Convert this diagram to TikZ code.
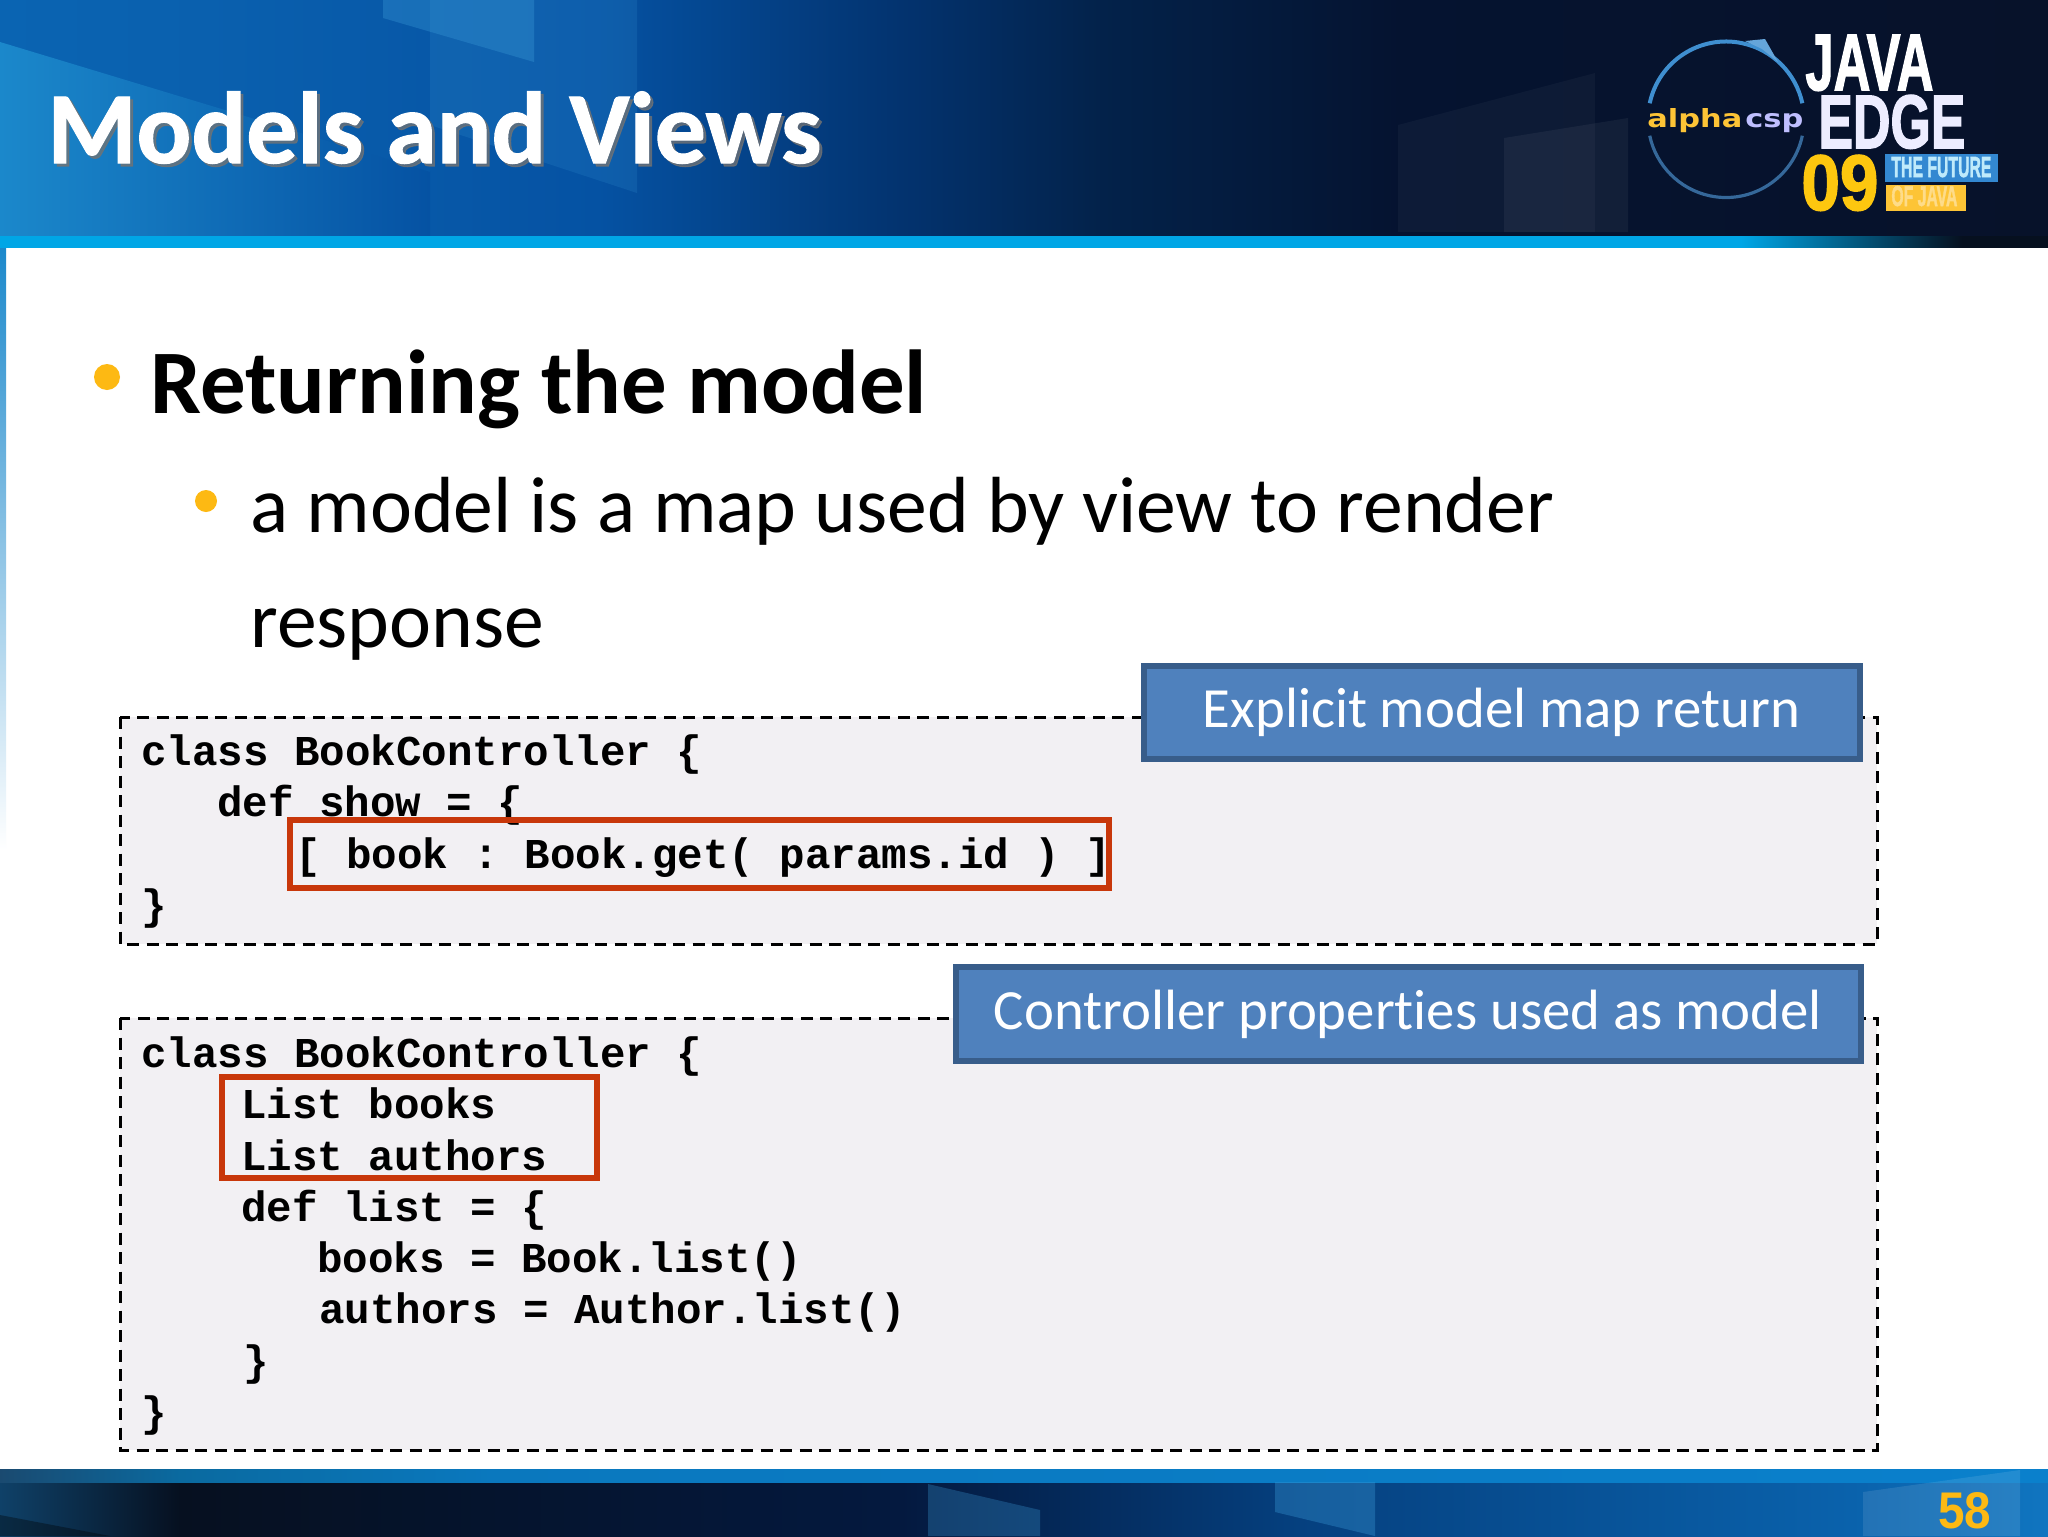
\documentclass[tikz,border=0pt]{standalone}
\usepackage{graphicx}
\usepackage{fontspec}
\setmainfont[Ligatures=NoCommon]{Carlito}
\setmonofont{Liberation Mono}
\newfontfamily\arialf{Liberation Sans}
\newfontfamily\widef{DejaVu Sans}
\newcommand{\heavy}{\arialf\bfseries\addfontfeature{FakeBold=2}}
\definecolor{bulletyel}{HTML}{FDB913}
\definecolor{panelgray}{HTML}{F2F0F3}
\definecolor{redbox}{HTML}{C8370A}
\definecolor{bluefill}{HTML}{4F81BD}
\definecolor{blueedge}{HTML}{385D8A}
\definecolor{h0}{HTML}{0A64B2}\definecolor{h1}{HTML}{0A60AE}\definecolor{h2}{HTML}{0552A3}
\definecolor{h3}{HTML}{03336F}\definecolor{h4}{HTML}{03224A}\definecolor{h5}{HTML}{051330}\definecolor{h6}{HTML}{07122A}
\definecolor{hlight}{HTML}{1B88CB}\definecolor{bandblue}{HTML}{3A9AD8}
\definecolor{s0}{HTML}{00A6E6}\definecolor{s3}{HTML}{06101F}
\definecolor{f0}{HTML}{0F4168}\definecolor{f1}{HTML}{061020}\definecolor{f2}{HTML}{04193F}\definecolor{f3}{HTML}{05407F}\definecolor{f4}{HTML}{0A62AC}\definecolor{f5}{HTML}{1075C0}
\definecolor{t0}{HTML}{1A4A70}\definecolor{t1}{HTML}{0A6AA0}\definecolor{t2}{HTML}{0A78BE}\definecolor{t3}{HTML}{0A80CC}
\definecolor{ringtop}{HTML}{3F8FD0}\definecolor{ringlow}{HTML}{35689A}
\pgfdeclarehorizontalshading{hdrshade}{100bp}{color(0bp)=(h0);color(25bp)=(h0);color(30bp)=(h1);color(39.6bp)=(h2);color(47bp)=(h3);color(51.9bp)=(h4);color(59.2bp)=(h5);color(75bp)=(h6);color(100bp)=(h6)}
\pgfdeclarehorizontalshading{stripshade}{100bp}{color(0bp)=(s0);color(25bp)=(s0);color(67.5bp)=(s0);color(72.9bp)=(s3);color(100bp)=(s3)}
\pgfdeclarehorizontalshading{footshade}{100bp}{color(0bp)=(f0);color(25bp)=(f0);color(29.4bp)=(f1);color(47bp)=(f2);color(56.7bp)=(f3);color(70.2bp)=(f4);color(75bp)=(f5);color(100bp)=(f5)}
\pgfdeclarehorizontalshading{tealshade}{100bp}{color(0bp)=(t0);color(25bp)=(t0);color(29.4bp)=(t1);color(37bp)=(t2);color(75bp)=(t3);color(100bp)=(t3)}
\tikzset{
  codetext/.style={anchor=base west,inner sep=0pt,font=\ttfamily\bfseries\fontsize{21.25}{24}\selectfont,text=black},
  dashbox/.style={draw=black,fill=panelgray,line width=1.5pt,dash pattern=on 6pt off 3.75pt},
  redframe/.style={draw=redbox,line width=3pt},
  bluelabel/.style={draw=blueedge,fill=bluefill,line width=3pt,text=white,inner sep=0pt,font=\fontsize{28.4}{32}\selectfont},
  bulletmark/.style={fill=bulletyel,draw=none},
  titletext/.style={anchor=base west,inner sep=0pt,font=\bfseries\addfontfeature{FakeBold=1}\fontsize{51}{56}\selectfont},
  bodytext/.style={anchor=base west,inner sep=0pt,text=black},
  logotext/.style={anchor=base west,inner sep=0pt}
}
\begin{document}
\begin{tikzpicture}[x=0.5pt,y=-0.5pt]
\useasboundingbox (0,0) rectangle (2048,1536);
% page
\fill[white] (0,0) rectangle (2048,1536);
\shade[top color=hlight,bottom color=white] (0,246) rectangle (6,850);
% header
\shade[shading=hdrshade] (0,0) rectangle (2048,238);
\shade[left color=hlight,right color=h2] (0,42) -- (430,172) -- (430,238) -- (0,238) -- cycle;
\fill[bandblue,opacity=.35] (383,0) -- (534,0) -- (534,62) -- (383,18) -- cycle;
\fill[bandblue,opacity=.18] (430,0) -- (637,0) -- (637,193) -- (430,125) -- cycle;
\fill[white,opacity=.035] (1398,125) -- (1595,73) -- (1595,232) -- (1398,232) -- cycle;
\fill[white,opacity=.05] (1504,138) -- (1628,118) -- (1628,232) -- (1504,232) -- cycle;
\shade[shading=stripshade] (0,236) rectangle (2048,247);
% footer
\shade[shading=footshade] (0,1469) rectangle (2048,1536);
\shade[shading=tealshade] (0,1469) rectangle (2048,1482);
\fill[black,opacity=.35] (0,1515) -- (110,1536) -- (0,1536) -- cycle;
\fill[bandblue,opacity=.3] (928,1484) -- (1040,1510) -- (1040,1536) -- (928,1536) -- cycle;
\fill[bandblue,opacity=.35] (1275,1482) -- (1375,1482) -- (1375,1536) -- (1275,1512) -- cycle;
\fill[white,opacity=.10] (1863,1492) -- (2020,1470) -- (2020,1536) -- (1863,1536) -- cycle;
% title
\node[titletext,text=black!55,opacity=.75] (titleshadow) at (50,166) {Models and Views};
\node[titletext,text=white] (title) at (47,163) {Models and Views};
% logo
\draw[ringlow,line width=1.6pt] (1726,119.5) ++(12:78) arc[start angle=12,end angle=168,radius=78];
\draw[ringtop,line width=2pt] (1726,119.5) ++(192:78) arc[start angle=192,end angle=348,radius=78];
\fill[ringtop!80!white] (1745,41) -- (1765,39) -- (1778,62) -- (1762,49) -- cycle;
\node[logotext,text=bulletyel!85!white] (alpha) at (1647,127) {\resizebox{47.5pt}{9.5pt}{\widef\bfseries alpha}};
\node[logotext,text=white!75!blue] (csp) at (1745,127) {\resizebox{29pt}{7pt}{\widef\bfseries csp}};
\node[logotext,text=white] (java) at (1805,90) {\resizebox{64pt}{27.5pt}{\heavy JAVA}};
\node[logotext,text=white!93!blue] (edge) at (1818,148) {\resizebox{73.5pt}{26.5pt}{\heavy EDGE}};
\node[logotext,text=bulletyel!80!yellow] (nine) at (1801,210) {\resizebox{38.5pt}{27.5pt}{\heavy 09}};
\fill[cyan!60!blue!85!white] (1885,154) rectangle (1998,182);
\fill[bulletyel!85!white] (1886,185) rectangle (1966,211);
\node[logotext,text=white!75!cyan] (future) at (1891,177) {\resizebox{50pt}{10pt}{\heavy THE FUTURE}};
\node[logotext,text=white!50!bulletyel] (ofjava) at (1891,206) {\resizebox{33pt}{10pt}{\heavy OF JAVA}};
% bullets
\fill[bulletmark] (107,377) circle (13);
\node[bodytext,font=\bfseries\fontsize{45.4}{50}\selectfont] (b1) at (150,413) {Returning the model};
\fill[bulletmark] (206,501) circle (11);
\node[bodytext,font=\fontsize{39.8}{44}\selectfont] (b2) at (250,532) {a model is a map used by view to render};
\node[bodytext,font=\fontsize{39.8}{44}\selectfont] (b3) at (250,647) {response};
% panel 1
\draw[dashbox] (120,717) rectangle (1877,944);
\node[codetext] (c1) at (141,765.5) {class BookController \{};
\node[codetext] (c2) at (217,816.5) {def show = \{};
\node[codetext] (c3) at (295,868.5) {[ book : Book.get( params.id ) ]};
\node[codetext] (c4) at (141,919.5) {\}};
\draw[redframe] (290,820) rectangle (1109,888);
\node[bluelabel,minimum width=358pt,minimum height=46.5pt] (lab1) at (1501.5,712) {\raisebox{-2pt}{Explicit model map return}};
% panel 2
\draw[dashbox] (120,1018) rectangle (1877,1450);
\node[codetext] (d1) at (141,1067.5) {class BookController \{};
\node[codetext] (d2) at (241,1118.5) {List books};
\node[codetext] (d3) at (241,1170.5) {List authors};
\node[codetext] (d4) at (241,1221.5) {def list = \{};
\node[codetext] (d5) at (317,1272.5) {books = Book.list()};
\node[codetext] (d6) at (319,1323.5) {authors = Author.list()};
\node[codetext] (d7) at (243,1375.5) {\}};
\node[codetext] (d8) at (141,1426.5) {\}};
\draw[redframe] (222,1077) rectangle (597,1178);
\node[bluelabel,minimum width=452.5pt,minimum height=47pt] (lab2) at (1408,1014) {\raisebox{-2pt}{Controller properties used as model}};
% page number
\node[logotext,text=bulletyel] (num) at (1938,1528) {\resizebox{26.5pt}{18pt}{\arialf\bfseries 58}};
\end{tikzpicture}
\end{document}
